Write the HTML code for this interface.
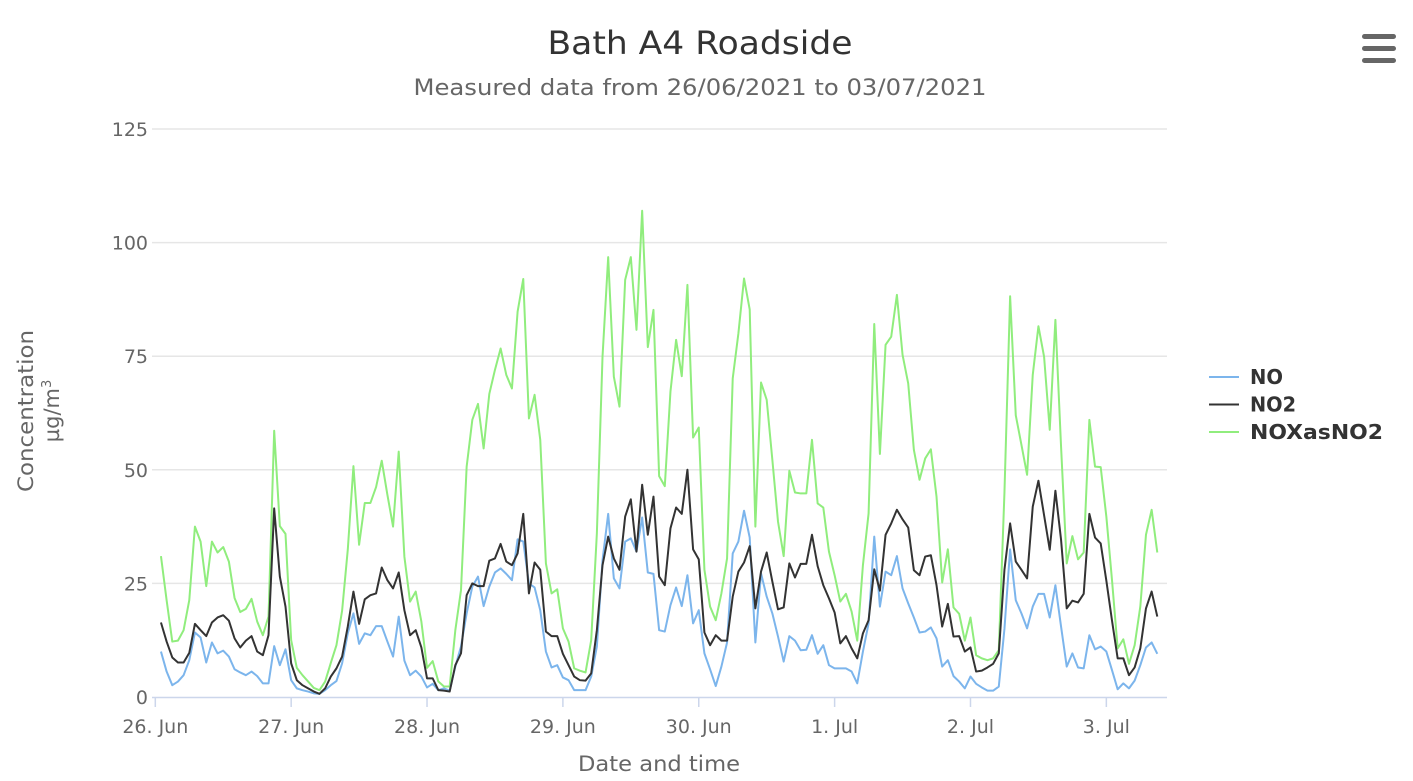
<!DOCTYPE html>
<html><head><meta charset="utf-8">
<style>
html,body{margin:0;padding:0;background:#fff;width:1413px;height:781px;overflow:hidden}
svg{display:block;font-family:"DejaVu Sans","Liberation Sans",sans-serif}
</style></head>
<body>
<svg id="chart" width="1413" height="781" viewBox="0 0 1413 781">
<text x="700" y="54" text-anchor="middle" font-size="32" fill="#333" textLength="305" lengthAdjust="spacingAndGlyphs">Bath A4 Roadside</text>
<text x="700" y="95" text-anchor="middle" font-size="22" fill="#666" textLength="573" lengthAdjust="spacingAndGlyphs">Measured data from 26/06/2021 to 03/07/2021</text>
<g>
<rect x="1362" y="34" width="34" height="5" rx="2.5" fill="#666"/>
<rect x="1362" y="46" width="34" height="5" rx="2.5" fill="#666"/>
<rect x="1362" y="58" width="34" height="5" rx="2.5" fill="#666"/>
</g>
<g id="grid"></g>
<g id="yaxis"></g>
<g id="xaxis"></g>
<g id="series"></g>
<g transform="translate(33,411) rotate(-90)">
<text x="0" y="0" text-anchor="middle" font-size="21" fill="#666" textLength="162" lengthAdjust="spacingAndGlyphs">Concentration</text>
<text x="0" y="26" text-anchor="middle" font-size="21" fill="#666">µg/m<tspan font-size="13" dy="-8">3</tspan></text>
</g>
<text x="659" y="771" text-anchor="middle" font-size="21" fill="#666" textLength="162" lengthAdjust="spacingAndGlyphs">Date and time</text>
<g id="legend"></g>
</svg>
<script>
const seriesNames = ["NO","NO2","NOXasNO2"];
const seriesColors = ["#7cb5ec","#333333","#90ed7d"];
const yTicks = [0,25,50,75,100,125];
const xTickLabels = ["26. Jun","27. Jun","28. Jun","29. Jun","30. Jun","1. Jul","2. Jul","3. Jul"];
const startHour = 1;
const noValues = [10,5.6,2.6,3.4,4.8,8.1,14.2,13.1,7.6,12,9.6,10.2,8.9,6.1,5.4,4.8,5.6,4.6,3,3,11.2,7,10.5,3.7,1.9,1.5,1.2,0.8,0.7,1.5,2.6,3.5,7.4,14,18.4,11.7,14,13.6,15.6,15.6,12.2,8.9,17.7,8,4.8,5.8,4.5,2.1,2.9,1.5,
1.9,1.4,6.7,11.1,18.4,24.3,26.5,20,24.3,27.4,28.3,27.1,25.7,34.7,34.2,25,24.1,19.1,10,6.5,7,4.3,3.7,1.5,1.5,1.5,4.5,11.1,30.1,40.3,26.1,23.9,34.2,34.9,32,39.5,27.4,27.1,14.7,14.4,20.2,24.1,20,26.8,
16.2,19.1,9.6,6.1,2.4,6.7,12,31.6,34.2,41,35.1,12,27.2,22.1,18.4,13.3,7.8,13.4,12.4,10.3,10.4,13.6,9.5,11.4,7,6.3,6.3,6.3,5.6,3,10,16.2,35.3,19.9,27.6,26.8,31,23.9,20.6,17.5,14.2,14.4,15.3,12.9,6.7,8.1,4.6,3.4,1.9,4.5,2.9,
2.1,1.4,1.4,2.3,15,32.5,21.3,18.4,15.1,19.9,22.7,22.7,17.5,24.6,15.5,6.7,9.6,6.5,6.3,13.6,10.5,11.1,10,5.9,1.7,3,1.9,3.6,7,10.9,12,9.5];
const no2Values = [16.4,12.2,8.7,7.6,7.6,9.7,16.1,14.7,13.4,16.4,17.5,18,16.8,12.9,10.9,12.4,13.4,10,9.2,13.6,41.5,26.5,19.9,7.4,3.7,2.6,1.9,1.2,0.7,1.9,4.5,6.3,8.9,15.5,23.2,16.1,21.5,22.4,22.8,28.5,25.7,23.9,27.4,19.1,13.6,14.7,10.9,4.1,4.1,1.5,
1.4,1.2,7,9.6,22.4,25,24.4,24.4,30,30.5,33.7,29.8,29,31.6,40.3,22.8,29.6,28,14.4,13.4,13.4,9.5,7,4.5,3.7,3.6,5.2,14.7,29,35.3,30.5,28,39.7,43.5,32,46.7,35.7,44.1,26.5,24.6,37.1,41.7,40.3,50,
32.5,30.3,14.2,11.4,13.6,12.4,12.4,22.1,27.6,29.6,33.2,19.5,27.6,31.8,25.4,19.3,19.7,29.4,26.3,29.3,29.3,35.7,28.8,24.6,21.7,18.6,11.8,13.4,10.7,8.5,14,16.9,28.1,23.4,35.7,38.2,41.2,39.1,37.3,27.9,26.8,30.9,31.2,24.6,15.5,20.5,13.3,13.4,10,10.9,5.6,
5.8,6.5,7.3,9.6,28,38.2,29.8,28,26.1,41.9,47.6,40,32.4,45.4,34.6,19.5,21.2,20.8,22.7,40.3,35.1,33.8,25.6,16.8,8.5,8.5,4.8,6.5,10.7,19.5,23.2,17.7];
const noxValues = [31,21.3,12.2,12.4,14.7,21.3,37.5,34.2,24.4,34.2,31.8,33,29.8,21.8,18.7,19.4,21.6,16.6,13.6,17.7,58.6,37.6,35.9,12.5,6.4,4.8,3.4,2,1.5,3.4,7.5,11.4,19,32.4,50.8,33.5,42.7,42.7,46.2,52,44.5,37.5,54,30.9,21,23.2,16.6,6.4,7.9,3.4,
2.3,2.3,14.7,23.5,50.7,61,64.5,54.7,66.7,72,76.7,70.9,67.9,84.8,92,61.3,66.5,56.6,29.4,22.8,23.7,15.1,12.2,6.3,5.8,5.4,12.5,36,74.9,96.8,70.5,63.9,91.8,96.8,80.8,107,77,85.2,48.6,46.4,67.2,78.6,70.6,90.7,
57.1,59.3,28,19.9,16.9,22.8,30.5,70.1,80,92.1,85.3,37.5,69.2,65.4,52.2,38.6,31,49.8,45,44.8,44.8,56.6,42.6,41.7,32,26.8,21,22.7,18.8,12.4,29,40.4,82.1,53.5,77.5,79.3,88.5,75.3,69,54.4,47.8,52.5,54.5,44.1,25.2,32.5,19.7,18.3,12.4,17.5,9.2,
8.5,8.1,8.5,10.3,45,88.2,62,55.5,48.9,70.9,81.6,74.9,58.8,83,55.1,29.4,35.4,30.3,31.8,61,50.7,50.6,39.7,25.7,10.7,12.7,7.3,11.4,19.9,35.7,41.2,31.8];

const NS="http://www.w3.org/2000/svg";
const plotL=152, plotR=1167, y0=697, yTop=129, yMax=125;
const x0=155.3, hourW=5.661;
function yScale(v){return y0-(v/yMax)*(y0-yTop);}
function xScale(h){return x0+h*hourW;}
function mk(tag,attrs,parent){const e=document.createElementNS(NS,tag);for(const k in attrs)e.setAttribute(k,attrs[k]);parent.appendChild(e);return e;}

const grid=document.getElementById('grid'), yaxis=document.getElementById('yaxis'), xaxis=document.getElementById('xaxis');
yTicks.forEach(t=>{
  if(t>0){const l=mk('line',{x1:plotL,x2:plotR,y1:yScale(t),y2:yScale(t),stroke:'#e6e6e6','stroke-width':1.5},grid);
  
  }
  const tx=mk('text',{x:148,y:yScale(t)+7,'text-anchor':'end','font-size':19,fill:'#666'},yaxis);
  tx.textContent=t;
  
  
});
const ax=mk('line',{x1:plotL,x2:plotR,y1:y0+0.5,y2:y0+0.5,stroke:'#ccd6eb','stroke-width':1.5},xaxis);


xTickLabels.forEach((lab,i)=>{
  const x=xScale(i*24);
  const tk=mk('line',{x1:x,x2:x,y1:y0,y2:y0+10,stroke:'#ccd6eb','stroke-width':1.5},xaxis);
  
  
  const tx=mk('text',{x:x,y:733,'text-anchor':'middle','font-size':19,fill:'#666'},xaxis);
  tx.textContent=lab;
  
  
});
const ser=document.getElementById('series');
const allVals=[noValues,no2Values,noxValues];
[2,0,1].forEach(si=>{
  const vals=allVals[si];
  const d=vals.map((v,i)=>(i?'L':'M')+xScale(startHour+i).toFixed(2)+' '+yScale(v).toFixed(2)).join(' ');
  const p=mk('path',{d:d,fill:'none',stroke:seriesColors[si],'stroke-width':2,'stroke-linejoin':'round'},ser);
  
  
});
const leg=document.getElementById('legend');
const legLens=[33,46,133];
seriesNames.forEach((n,i)=>{
  const y=377+i*27.5;
  const g=mk('g',{},leg);
  
  
  mk('line',{x1:1209,x2:1239,y1:y,y2:y,stroke:seriesColors[i],'stroke-width':2},g);
  const t=mk('text',{x:1250,y:y+7,'font-size':20,'font-weight':'bold',fill:'#333',textLength:legLens[i],lengthAdjust:'spacingAndGlyphs'},g);
  t.textContent=n;
});
</script>
</body></html>
